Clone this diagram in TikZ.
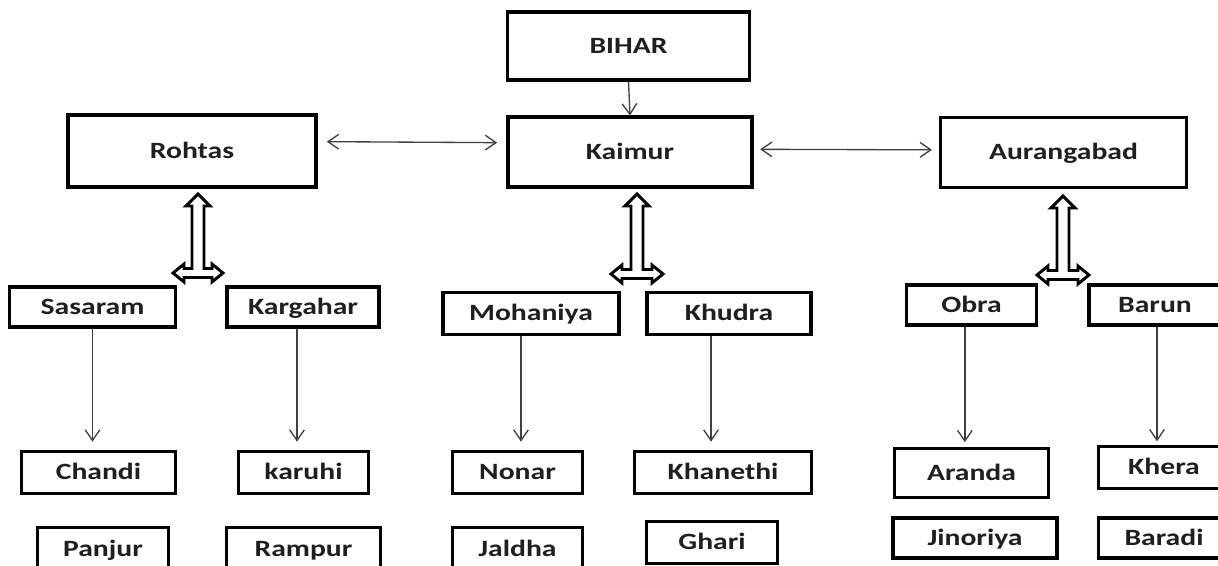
\documentclass[tikz,border=0pt]{standalone}
\usepackage{fontspec}
\setmainfont{Carlito}[FakeStretch=1.27]
\usetikzlibrary{arrows.meta}
\tikzset{
  box/.style={draw=black, line width=2.3pt, fill=white, inner sep=0pt,
    font=\fontsize{17.5}{20}\selectfont\bfseries, text=black!88,
    text height=11.2pt, text depth=0pt},
  arr/.style={draw=black!75, line width=1pt, -{Straight Barb[length=8pt,width=11pt,line width=1pt]}},
  darr/.style={draw=black!75, line width=1pt, {Straight Barb[length=8pt,width=11pt,line width=1pt]}-{Straight Barb[length=8pt,width=11pt,line width=1pt]}},
  hollow/.style={draw=black, line width=2.2pt, fill=white, line join=miter}
}
\newcommand\tarr[4]{%
  \draw[hollow] (#1,#2) -- ({#1+12},{#2+12}) -- ({#1+6},{#2+12}) -- ({#1+6},{#3-4.5})
   -- ({#1+#4-11},{#3-4.5}) -- ({#1+#4-11},{#3-9}) -- ({#1+#4},#3) -- ({#1+#4-11},{#3+9})
   -- ({#1+#4-11},{#3+4.5}) -- ({#1-#4+11},{#3+4.5}) -- ({#1-#4+11},{#3+9}) -- ({#1-#4},#3)
   -- ({#1-#4+11},{#3-9}) -- ({#1-#4+11},{#3-4.5}) -- ({#1-6},{#3-4.5}) -- ({#1-6},{#2+12})
   -- ({#1-12},{#2+12}) -- cycle;}
\begin{document}
\begin{tikzpicture}[x=0.75pt, y=-0.75pt]
\useasboundingbox[fill=white] (0,0) rectangle (1218,566);
\clip (0,0) rectangle (1218,566);
% top level
\node[box, minimum width=182pt, minimum height=51pt] (bihar) at (628.5,46) {BIHAR};
\node[box, minimum width=183pt, minimum height=52.5pt] (kaimur) at (630,152) {Kaimur};
\node[box, minimum width=186pt, minimum height=54pt] (rohtas) at (192,151) {Rohtas};
\node[box, minimum width=185pt, minimum height=53pt] (aurangabad) at (1063.5,152.5) {Aurangabad};
% level 2
\node[box, minimum width=124pt, minimum height=30pt] (sasaram) at (92.5,307) {Sasaram};
\node[box, minimum width=114pt, minimum height=30pt] (kargahar) at (303,307) {Kargahar};
\node[box, minimum width=132pt, minimum height=31pt] (mohaniya) at (531,313.5) {Mohaniya};
\node[box, minimum width=123pt, minimum height=31pt] (khudra) at (729,313.5) {Khudra};
\node[box, minimum width=97pt, minimum height=30pt] (obra) at (971.5,305) {Obra};
\node[box, minimum width=99pt, minimum height=30pt] (barun) at (1155,305) {Barun};
% level 3
\node[box, minimum width=115pt, minimum height=31pt] (chandi) at (98.5,472.5) {Chandi};
\node[box, minimum width=98pt, minimum height=31pt] (karuhi) at (303.5,472.5) {karuhi};
\node[box, minimum width=98pt, minimum height=31pt] (nonar) at (517.5,472.5) {Nonar};
\node[box, minimum width=133pt, minimum height=31pt] (khanethi) at (723,472.5) {Khanethi};
\node[box, minimum width=115pt, minimum height=37pt] (aranda) at (971.5,473) {Aranda};
\node[box, minimum width=98pt, minimum height=31pt] (khera) at (1164,467.5) {Khera};
% level 4
\node[box, minimum width=98pt, minimum height=32pt] (panjur) at (103,549) {Panjur};
\node[box, minimum width=115pt, minimum height=32pt] (rampur) at (303.5,549) {Rampur};
\node[box, minimum width=98pt, minimum height=32pt] (jaldha) at (517.5,549) {Jaldha};
\node[box, minimum width=98pt, minimum height=31pt] (ghari) at (712,542.5) {Ghari};
\node[box, minimum width=123pt, minimum height=30pt] (jinoriya) at (975,538) {Jinoriya};
\node[box, minimum width=98pt, minimum height=30pt] (baradi) at (1164,538) {Baradi};
% connectors
\draw[arr] (bihar.south) -- (kaimur.north);
\draw[darr] ([xshift=7pt,yshift=7pt]rohtas.east) -- ([xshift=-7pt,yshift=7pt]kaimur.west);
\draw[darr] ([xshift=5pt,yshift=2pt]kaimur.east) -- ([xshift=-5pt,yshift=2pt]aurangabad.west);
\draw[arr, shorten >=6.5pt] (sasaram.south) -- (sasaram.south |- chandi.north);
\coordinate (kg) at ([xshift=-4.5pt]kargahar.south);
\draw[arr, shorten >=6.5pt] (kg) -- (kg |- karuhi.north);
\coordinate (mh) at ([xshift=-7.5pt]mohaniya.south);
\draw[arr, shorten >=6.5pt] (mh) -- (mh |- nonar.north);
\coordinate (kh) at ([xshift=-13.5pt]khudra.south);
\draw[arr, shorten >=6.5pt] (kh) -- (kh |- khanethi.north);
\coordinate (ob) at ([xshift=-5pt]obra.south);
\draw[arr, shorten >=3.5pt] (ob) -- (ob |- aranda.north);
\coordinate (br) at ([xshift=1.5pt]barun.south);
\draw[arr, shorten >=3pt] (br) -- (br |- khera.north);
% hollow T arrows
\tarr{198}{194}{273}{25}
\tarr{637}{194}{274}{26}
\tarr{1063}{196}{275}{26}
\end{tikzpicture}
\end{document}
